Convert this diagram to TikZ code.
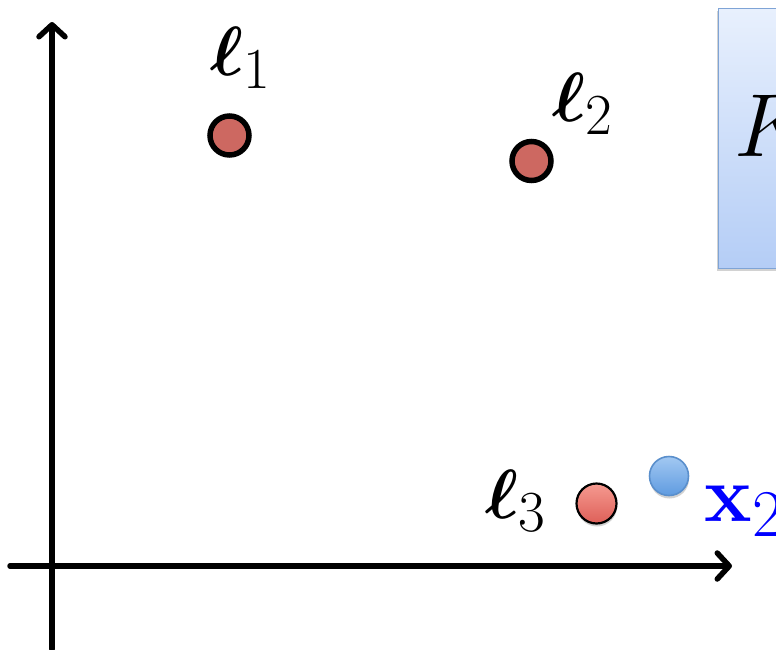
\documentclass[tikz,border=0pt]{standalone}
\usepackage{amsmath,amssymb,bm}
\usetikzlibrary{arrows.meta,shadows}
\definecolor{lmred}{HTML}{CD6861}
\definecolor{boxtop}{HTML}{E8F0FD}
\definecolor{boxbot}{HTML}{B4CDF6}
\definecolor{boxedge}{HTML}{7FA4D6}
\definecolor{xtop}{HTML}{A2C8F2}
\definecolor{xbot}{HTML}{5F9BE0}
\definecolor{xedge}{HTML}{5A8FCC}
\definecolor{rtop}{HTML}{F59A90}
\definecolor{rbot}{HTML}{DE5F58}
\tikzset{
  axisline/.style={line width=5.5pt, line cap=round, line join=round,
    -{Straight Barb[length=12pt,width=26pt,line width=5.5pt,round]}},
  darkpt/.style={circle, minimum size=39pt, inner sep=0pt, fill=lmred, draw=black, line width=5.5pt},
  softshadow/.style={drop shadow={opacity=0.35, shadow xshift=0.5pt, shadow yshift=-3pt}},
  lightpt/.style={circle, minimum size=40pt, inner sep=0pt, top color=rtop, bottom color=rbot, draw=black, line width=2.2pt, softshadow},
  bluept/.style={circle, minimum size=39pt, inner sep=0pt, top color=xtop, bottom color=xbot, draw=xedge, line width=1.6pt, softshadow},
  lbl/.style={inner sep=0pt, anchor=base west, font=\Huge, scale=2.8},
}
\begin{document}
\begin{tikzpicture}[x=1pt,y=-1pt]
\clip (0,0) rectangle (776,649);
\fill[white] (0,0) rectangle (776,649);
% box
\node[draw=boxedge, line width=1.3pt, top color=boxtop, bottom color=boxbot,
  minimum width=140pt, minimum height=260pt, anchor=north west, inner sep=0pt,
  drop shadow={opacity=0.35, shadow xshift=-1.5pt, shadow yshift=-2pt}] (box) at (718,8) {};
\node[inner sep=0pt, anchor=base west, font=\Huge, scale=3.6] (K) at (734,156) {$K$};
% axes
\coordinate (ybot) at (52,649);
\coordinate (ytop) at (52,22);
\coordinate (xleft) at (10,566);
\coordinate (xright) at (732,566);
\draw[axisline] (ybot) -- (ytop);
\draw[axisline] (xleft) -- (xright);
% points
\node[darkpt] (l1) at (229.5,135.5) {};
\node[darkpt] (l2) at (531.5,161) {};
\node[lightpt] (l3) at (596.5,503.5) {};
\node[bluept] (x2) at (669,476) {};
% labels
\node[lbl] (L1) at (210,75) {$\boldsymbol{\ell}_1$};
\node[lbl] (L2) at (552,121) {$\boldsymbol{\ell}_2$};
\node[lbl] (L3) at (485,518) {$\boldsymbol{\ell}_3$};
\node[lbl, scale=1.15, text=blue] (X2) at (704,521) {$\mathbf{x}_2$};
\end{tikzpicture}
\end{document}
